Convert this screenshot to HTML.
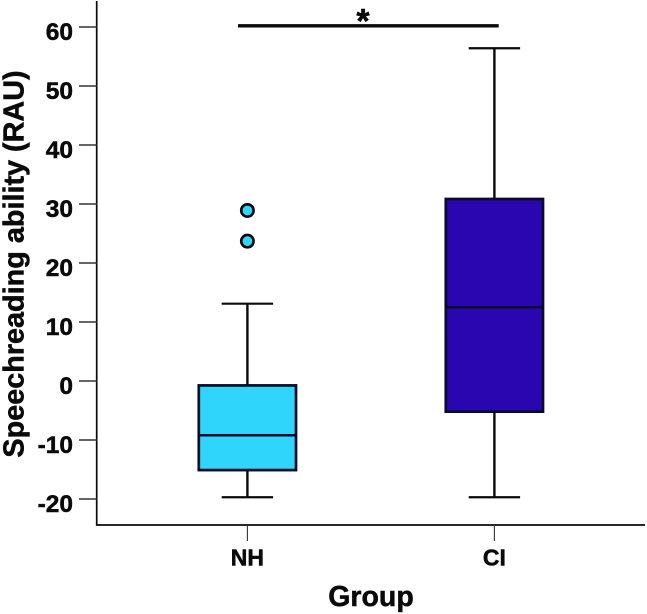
<!DOCTYPE html>
<html>
<head>
<meta charset="utf-8">
<title>Speechreading ability by group</title>
<style>
html,body{margin:0;padding:0;background:#fff;width:647px;height:614px;overflow:hidden}
svg{display:block}
text{font-family:"Liberation Sans",Arial,sans-serif;font-weight:bold;fill:#0a0a0a;stroke:#0a0a0a;stroke-width:.5px}
</style>
</head>
<body>
<svg id="chart" width="647" height="614" viewBox="0 0 647 614" xmlns="http://www.w3.org/2000/svg"></svg>
<script>
const categories = ['NH', 'CI'];
const whiskerLow = [-19.7, -19.7];
const q1 = [-15.1, -5.2];
const medians = [-9.2, 12.5];
const q3 = [-0.75, 30.85];
const whiskerHigh = [13.1, 56.4];
const outliersNH = [28.9, 23.7];
const outliersCI = [];
const fillColors = ['#2fd5fb', '#2a06b0'];
const yTicks = [60, 50, 40, 30, 20, 10, 0, -10, -20];
const significanceValue = 60.2;
const significanceLabel = '*';
const yTitle = 'Speechreading ability (RAU)';
const xTitle = 'Group';

const svg = document.getElementById('chart');
const NS = 'http://www.w3.org/2000/svg';
const axisX = 96.7, axisBottom = 525, axisTop = 1, axisRight = 645;
const BOX_HALF = 48.6, CAP_HALF = 25.7;
function yScale(v) { return 381 - 5.9 * v; }
function xScale(i) { return 247.4 + 247 * i; }
function mk(tag, attrs, text) {
  const el = document.createElementNS(NS, tag);
  for (const k in attrs) el.setAttribute(k, attrs[k]);
  if (text !== undefined) el.textContent = text;
  svg.appendChild(el);
  return el;
}
function line(x1, y1, x2, y2, w, color) {
  return mk('line', { x1: x1, y1: y1, x2: x2, y2: y2, stroke: color || '#0a0a0a', 'stroke-width': w });
}

let el = line(axisX, axisTop, axisX, axisBottom + 0.75, 1.7);


el = line(axisX, axisBottom, axisRight, axisBottom, 1.7);



yTicks.forEach(function (t) {
  const y = yScale(t);
  const tick = line(79, y, axisX, y, 1.4, '#333');
  
  
  const label = mk('text', { x: 73, y: y + 12.8, 'text-anchor': 'end', 'font-size': 24.5 }, String(t));
  
  
});

categories.forEach(function (c, i) {
  const x = xScale(i);
  const tick = line(x, axisBottom, x, 541, 1.1, '#333');
  
  
  const label = mk('text', { x: x, y: 565.5, 'text-anchor': 'middle', 'font-size': 23 }, c);
  
  

  const wl = line(x, yScale(q1[i]), x, yScale(whiskerLow[i]), 2.4);
  
  
  const wh = line(x, yScale(q3[i]), x, yScale(whiskerHigh[i]), 2.4);
  
  
  const cl = line(x - CAP_HALF, yScale(whiskerLow[i]), x + CAP_HALF, yScale(whiskerLow[i]), 2.2);
  
  
  const ch = line(x - CAP_HALF, yScale(whiskerHigh[i]), x + CAP_HALF, yScale(whiskerHigh[i]), 2.2);
  
  

  const box = mk('rect', {
    x: x - BOX_HALF, y: yScale(q3[i]), width: BOX_HALF * 2,
    height: yScale(q1[i]) - yScale(q3[i]),
    fill: fillColors[i], stroke: '#0a0a2a', 'stroke-width': 2.7
  });
  
  
  const med = line(x - BOX_HALF, yScale(medians[i]), x + BOX_HALF, yScale(medians[i]), 2.5, '#0a0a2a');
  
  
});

[outliersNH, outliersCI].forEach(function (series, i) {
  series.forEach(function (v) {
    const p = mk('circle', { cx: xScale(i), cy: yScale(v), r: 6.2, fill: fillColors[i], stroke: '#0a0a0a', 'stroke-width': 2.6 });
    
    
  });
});

el = line(238, yScale(significanceValue), 498.7, yScale(significanceValue), 3.4);


el = mk('text', { x: 363, y: 32.5, 'text-anchor': 'middle', 'font-size': 34 }, significanceLabel);



el = mk('text', { x: 371, y: 606, 'text-anchor': 'middle', 'font-size': 28.5 }, xTitle);


el = mk('text', { transform: 'translate(23.5,264) rotate(-90)', 'text-anchor': 'middle', 'font-size': 28.8 }, yTitle);


</script>
</body>
</html>
